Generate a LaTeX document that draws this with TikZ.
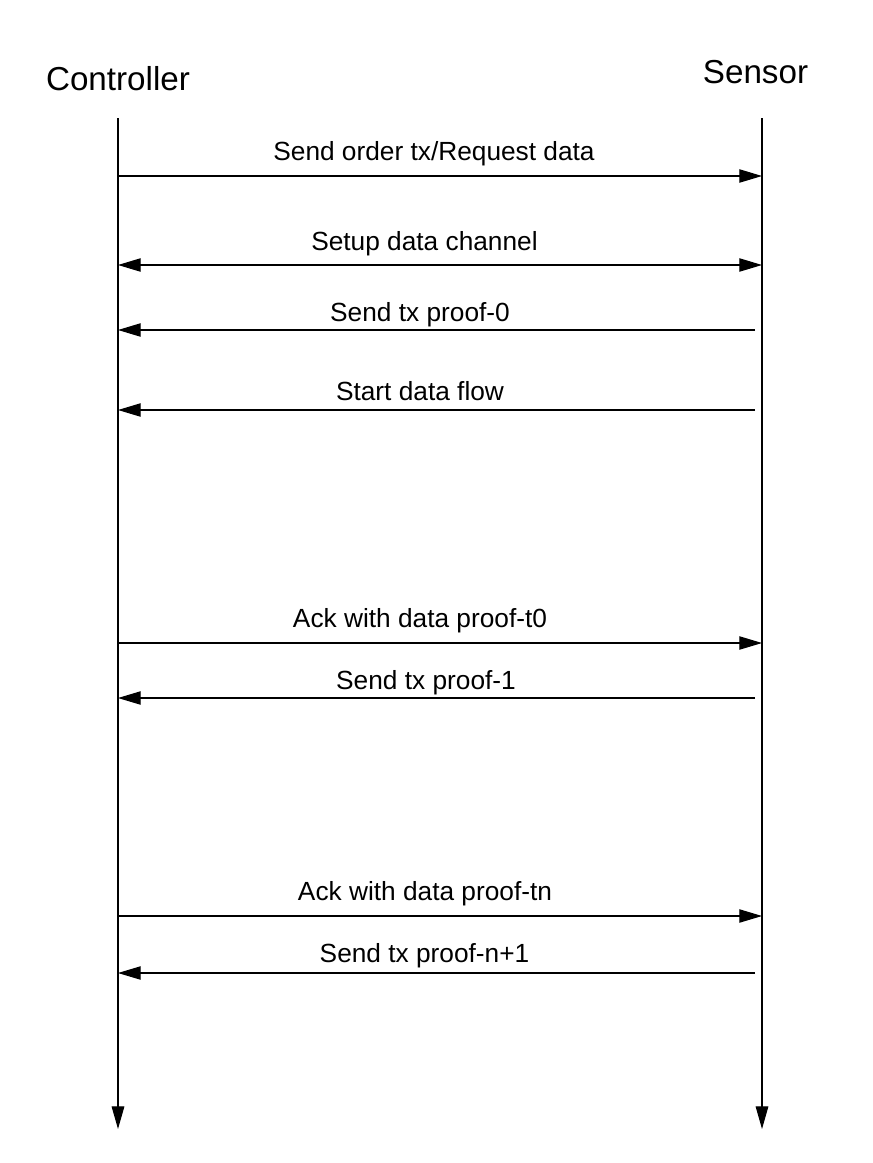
\documentclass[tikz,border=0pt]{standalone}
\usepackage{fontspec}
\setmainfont{Liberation Sans}
\usetikzlibrary{arrows.meta}
\tikzset{
  msg/.style={line width=0.8pt, -{Triangle[length=17pt,width=10pt]}},
  bimsg/.style={line width=0.8pt, {Triangle[length=17pt,width=10pt]}-{Triangle[length=17pt,width=10pt]}},
  lifeline/.style={line width=0.8pt, -{Triangle[length=17pt,width=9.5pt]}},
  actor/.style={font=\fontsize{24.9}{29}\selectfont, anchor=base, inner sep=0pt},
  lbl/.style 2 args={font=\fontsize{19.7}{23}\selectfont, midway, anchor=base, inner sep=0pt, xshift=#1*0.75pt, yshift=#2*0.75pt}
}
\begin{document}
\begin{tikzpicture}[x=0.75pt,y=-0.75pt]
	\useasboundingbox (0,0) rectangle (872,1163);
	% actors
	\node[actor] (ctrl) at (118,90) {Controller};
	\node[actor] (sens) at (755.5,84) {Sensor};
	\coordinate (ctop) at (118,118);
	\coordinate (cbot) at (118,1129);
	\coordinate (stop) at (762,118);
	\coordinate (sbot) at (762,1129);
	\draw[lifeline] (ctop) -- (cbot);
	\draw[lifeline] (stop) -- (sbot);
	% message rows
	\foreach \n/\y in {1/176,2/265,3/330,4/410,5/643,6/698,7/916,8/973} {
		\coordinate (c\n) at (118,\y);
		\coordinate (s\n) at (762,\y);
		\coordinate (t\n) at (755,\y);
	}
	\draw[msg] (c1) -- (s1) node[lbl={-6}{16}] {Send order tx/Request data};
	\draw[bimsg] (c2) -- (s2) node[lbl={-15.5}{15}] {Setup data channel};
	\draw[msg] (t3) -- (c3) node[lbl={-16.5}{9}] {Send tx proof-0};
	\draw[msg] (t4) -- (c4) node[lbl={-16.5}{10}] {Start data flow};
	\draw[msg] (c5) -- (s5) node[lbl={-20}{16}] {Ack with data proof-t0};
	\draw[msg] (t6) -- (c6) node[lbl={-10.5}{9}] {Send tx proof-1};
	\draw[msg] (c7) -- (s7) node[lbl={-15}{16}] {Ack with data proof-tn};
	\draw[msg] (t8) -- (c8) node[lbl={-12}{11}] {Send tx proof-n+1};
\end{tikzpicture}
\end{document}
